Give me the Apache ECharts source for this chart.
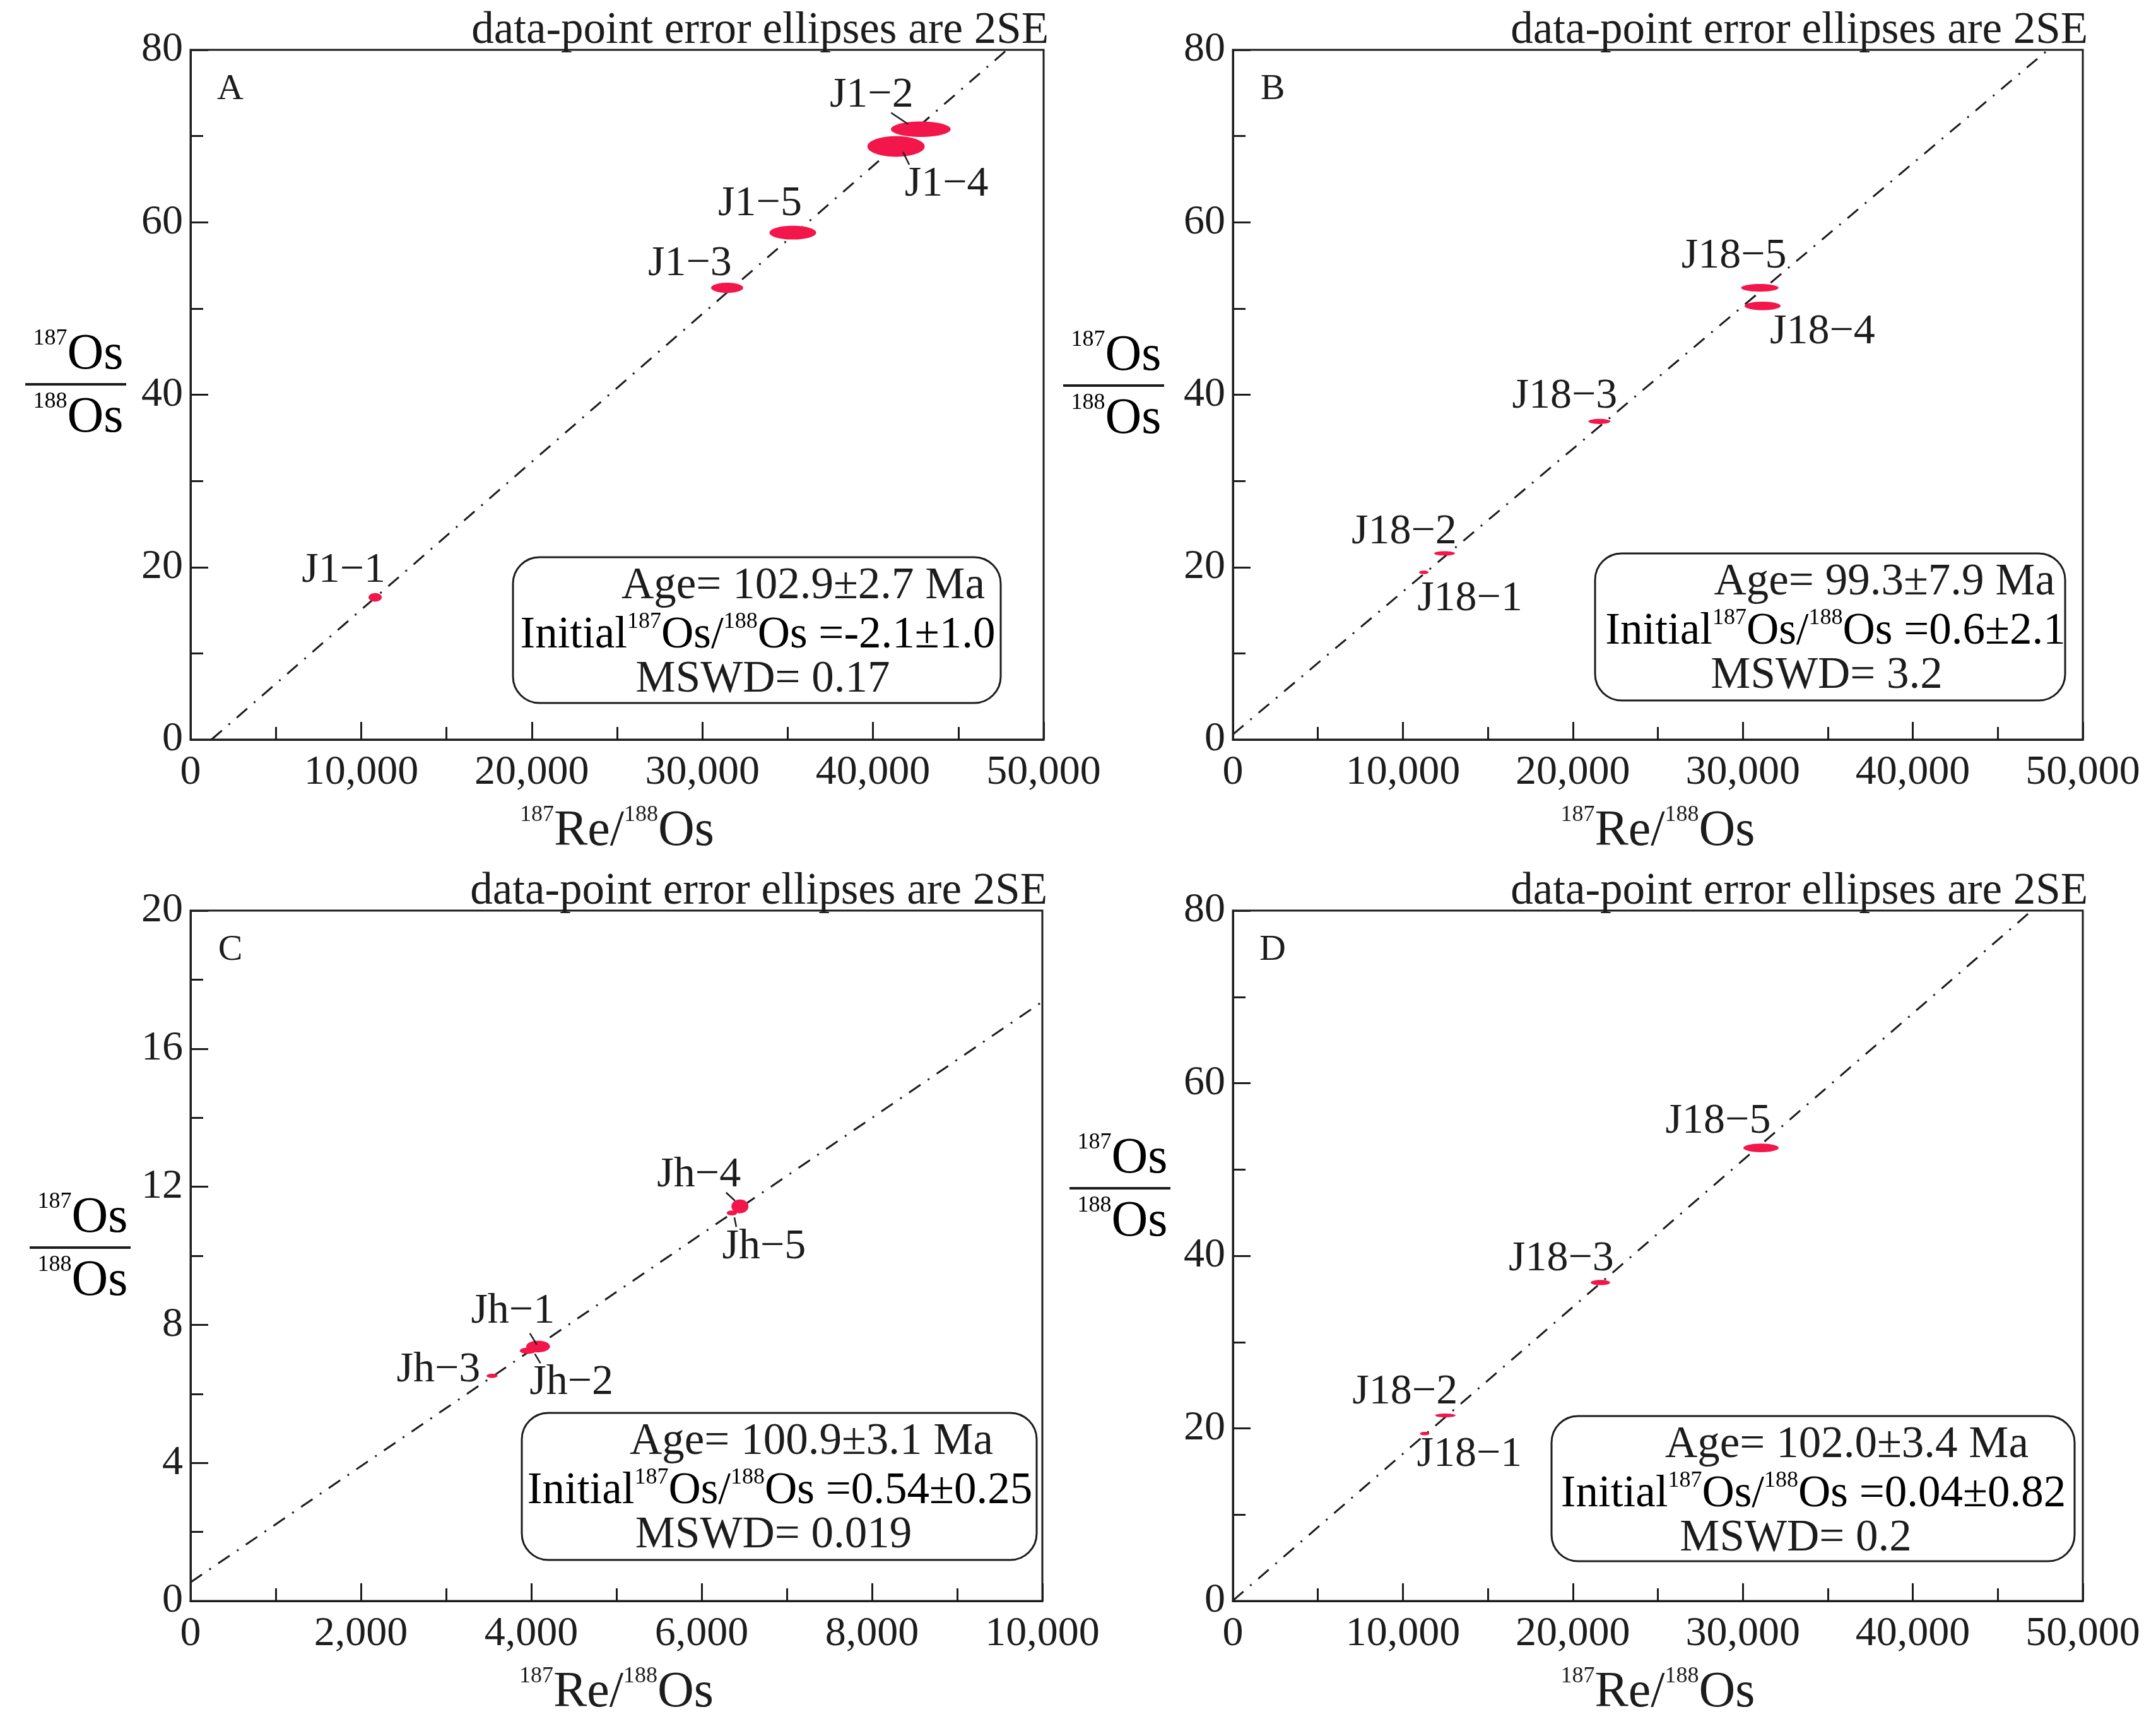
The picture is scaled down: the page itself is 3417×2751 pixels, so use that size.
<!DOCTYPE html>
<html>
<head>
<meta charset="utf-8">
<title>Re-Os isochrons</title>
<script src="https://cdn.jsdelivr.net/npm/echarts@6/dist/echarts.min.js"></script>
<style>
  html, body { margin: 0; padding: 0; background: #fff; }
  #chart { width: 3417px; height: 2751px; }
</style>
</head>
<body>
<div id="chart"></div>
<script>
// Panel A (J1)
const aNames = ["J1−1", "J1−2", "J1−3", "J1−4", "J1−5"];
const aRe = [10820, 42800, 31450, 41350, 35300];
const aOs = [16.5, 70.8, 52.4, 68.8, 58.8];
const aReErr = [390, 1750, 940, 1680, 1370];
const aOsErr = [0.5, 0.9, 0.6, 1.2, 0.8];
const aIsochron = [[1224, 0], [47850, 80]];

// Panel B (J18)
const bNames = ["J18−1", "J18−2", "J18−3", "J18−4", "J18−5"];
const bRe = [11230, 12450, 21560, 31160, 31000];
const bOs = [19.4, 21.6, 36.9, 50.3, 52.4];
const bReErr = [280, 610, 650, 1060, 1100];
const bOsErr = [0.2, 0.25, 0.3, 0.5, 0.45];
const bIsochron = [[0, 0.6], [47950, 80]];

// Panel C (Jh)
const cNames = ["Jh−1", "Jh−2", "Jh−3", "Jh−4", "Jh−5"];
const cRe = [4080, 3960, 3540, 6450, 6355];
const cOs = [7.37, 7.25, 6.52, 11.43, 11.24];
const cReErr = [140, 95, 65, 100, 60];
const cOsErr = [0.17, 0.09, 0.06, 0.2, 0.07];
const cIsochron = [[0, 0.54], [10000, 17.36]];

// Panel D (J18, without J18-4)
const dNames = ["J18−1", "J18−2", "J18−3", "J18−5"];
const dRe = [11280, 12500, 21620, 31070];
const dOs = [19.4, 21.5, 36.9, 52.5];
const dReErr = [280, 600, 570, 1040];
const dOsErr = [0.2, 0.22, 0.3, 0.5];
const dIsochron = [[0, 0.04], [47000, 80]];

// axes
const xMax = [50000, 50000, 10000, 50000];
const xStep = [10000, 10000, 2000, 10000];
const yMax = [80, 80, 20, 80];
const yStep = [20, 20, 4, 20];

// results shown in the boxes
const ages = ["102.9±2.7", "99.3±7.9", "100.9±3.1", "102.0±3.4"];
const initials = ["-2.1±1.0", "0.6±2.1", "0.54±0.25", "0.04±0.82"];
const mswds = ["0.17", "3.2", "0.019", "0.2"];
const letters = ["A", "B", "C", "D"];

const RED = "#f2164b";
const INK = "#1c1c1c";
const FONT = '"Liberation Serif", "Times New Roman", serif';

// layout (pixels)
const grids = [
  { left: 302, top: 79, width: 1352, height: 1093 },
  { left: 1954, top: 79, width: 1347, height: 1093 },
  { left: 302, top: 1443, width: 1350, height: 1094 },
  { left: 1954, top: 1443, width: 1347, height: 1094 },
];
// label offsets from ellipse centre
const labelOffsets = [
  [[-50, -42], [-78, -54], [-59, -38], [80, 60], [-52, -46]],
  [[73, 42], [-64, -34], [-55, -40], [95, 41], [-41, -50]],
  [[-40, -56], [69, 51], [-85, -9], [-65, -50], [51, 54]],
  [[71, 33], [-64, -37], [-62, -37], [-68, -42]],
];
// short leader lines [x1, y1, x2, y2] from ellipse centre
const leaders = [
  [null, [-47, -26, -20, -8], null, [11, 9, 21, 29], null],
  [null, null, null, null, null],
  [[-13, -21, -2, -3], [11, 5, 20, 20], null, [-22, -22, -8, -9], [4, 7, 7, 22]],
  [null, null, null, null],
];
const fracPos = [[120, 609], [1765, 611], [127, 1977], [1775, 1883]];
const boxes = [
  { x: 813, y: 883, w: 773, h: 231 },
  { x: 2528, y: 877, w: 745, h: 233 },
  { x: 827, y: 2239, w: 816, h: 233 },
  { x: 2459, y: 2244, w: 829, h: 230 },
];
const ageRight = [1561, 3257, 1574, 3215];
const initialX = [1201, 2909, 1236, 2874];
const mswdX = [1209, 2895, 1226, 2846];

const panels = [
  [aNames, aRe, aOs, aReErr, aOsErr, aIsochron],
  [bNames, bRe, bOs, bReErr, bOsErr, bIsochron],
  [cNames, cRe, cOs, cReErr, cOsErr, cIsochron],
  [dNames, dRe, dOs, dReErr, dOsErr, dIsochron],
];

const supRich = {
  s: { fontFamily: FONT, fontSize: 36, color: INK, verticalAlign: "top", align: "center" },
  b: { fontFamily: FONT, fontSize: 80, color: INK, lineHeight: 88, align: "center" },
};
const boxRich = {
  s: { fontFamily: FONT, fontSize: 36, color: INK, verticalAlign: "top" },
  b: { fontFamily: FONT, fontSize: 71, color: INK, lineHeight: 78 },
};

function fmt(v) {
  return v === 0 ? "0" : v.toLocaleString("en-US");
}

const chart = echarts.init(document.getElementById("chart"));

const xAxes = [];
const yAxes = [];
const series = [];
const graphics = [];

panels.forEach(function (p, k) {
  const names = p[0];
  xAxes.push({
    gridIndex: k,
    type: "value",
    min: 0,
    max: xMax[k],
    interval: xStep[k],
    axisLine: { lineStyle: { color: INK, width: 3 } },
    axisTick: { inside: true, length: 28, lineStyle: { color: INK, width: 3 } },
    minorTick: { show: true, splitNumber: 2, length: 20, lineStyle: { color: INK, width: 3 } },
    splitLine: { show: false },
    axisLabel: { fontFamily: FONT, fontSize: 66, color: INK, margin: 20, formatter: fmt },
    name: "{s|187}{b|Re/}{s|188}{b|Os}",
    nameLocation: "middle",
    nameGap: 102,
    nameTextStyle: { rich: supRich },
  });
  yAxes.push({
    gridIndex: k,
    type: "value",
    min: 0,
    max: yMax[k],
    interval: yStep[k],
    axisLine: { lineStyle: { color: INK, width: 3 } },
    axisTick: { inside: true, length: 28, lineStyle: { color: INK, width: 3 } },
    minorTick: { show: true, splitNumber: 2, length: 20, lineStyle: { color: INK, width: 3 } },
    splitLine: { show: false },
    axisLabel: { fontFamily: FONT, fontSize: 66, color: INK, margin: 12 },
  });

  // isochron
  series.push({
    type: "line",
    xAxisIndex: k,
    yAxisIndex: k,
    data: p[5],
    symbol: "none",
    silent: true,
    lineStyle: { color: INK, width: 3, type: [22, 14, 3, 14] },
    z: 3,
  });

  // error ellipses with labels
  const offs = labelOffsets[k];
  const lds = leaders[k];
  series.push({
    type: "custom",
    xAxisIndex: k,
    yAxisIndex: k,
    clip: false,
    z: 5,
    data: p[1].map(function (x, i) {
      return [x, p[2][i], p[3][i], p[4][i]];
    }),
    encode: { x: 0, y: 1 },
    renderItem: function (params, api) {
      const i = params.dataIndex;
      const c = api.coord([api.value(0), api.value(1)]);
      const s = api.size([api.value(2), api.value(3)]);
      const children = [
        {
          type: "ellipse",
          shape: { cx: c[0], cy: c[1], rx: s[0], ry: s[1] },
          style: { fill: RED },
        },
        {
          type: "text",
          style: {
            text: names[i],
            x: c[0] + offs[i][0],
            y: c[1] + offs[i][1],
            fill: INK,
            fontFamily: FONT,
            fontSize: 68,
            align: "center",
            verticalAlign: "middle",
          },
        },
      ];
      const ld = lds[i];
      if (ld) {
        children.push({
          type: "line",
          shape: { x1: c[0] + ld[0], y1: c[1] + ld[1], x2: c[0] + ld[2], y2: c[1] + ld[3] },
          style: { stroke: INK, lineWidth: 2.5 },
        });
      }
      return { type: "group", children: children };
    },
  });

  const g = grids[k];
  // note above the frame
  graphics.push({
    type: "text",
    x: g.left + g.width + 8,
    y: g.top - 30,
    style: {
      text: "data-point error ellipses are 2SE",
      fill: INK,
      fontFamily: FONT,
      fontSize: 71,
      align: "right",
      verticalAlign: "middle",
    },
  });
  // panel letter
  graphics.push({
    type: "text",
    x: g.left + 63,
    y: g.top + 63,
    style: { text: letters[k], fill: INK, fontFamily: FONT, fontSize: 58, align: "center", verticalAlign: "middle" },
  });
  // y-axis title as a fraction
  const f = fracPos[k];
  graphics.push({
    type: "text",
    x: f[0] + 4,
    y: f[1] - 46,
    style: { text: "{s|187}{b|Os}", rich: supRich, align: "center", verticalAlign: "middle" },
  });
  graphics.push({
    type: "line",
    shape: { x1: f[0] - 80, y1: f[1], x2: f[0] + 80, y2: f[1] },
    style: { stroke: INK, lineWidth: 4 },
  });
  graphics.push({
    type: "text",
    x: f[0] + 4,
    y: f[1] + 54,
    style: { text: "{s|188}{b|Os}", rich: supRich, align: "center", verticalAlign: "middle" },
  });
  // result box
  const b = boxes[k];
  graphics.push({
    type: "rect",
    shape: { x: b.x, y: b.y, width: b.w, height: b.h, r: 42 },
    style: { fill: "#fff", stroke: INK, lineWidth: 3 },
    z: 1,
  });
  graphics.push({
    type: "text",
    x: ageRight[k],
    y: b.y + 46,
    z: 2,
    style: { text: "Age= " + ages[k] + " Ma", fill: INK, fontFamily: FONT, fontSize: 71, align: "right", verticalAlign: "middle" },
  });
  graphics.push({
    type: "text",
    x: initialX[k],
    y: b.y + 124,
    z: 2,
    style: {
      text: "{b|Initial}{s|187}{b|Os/}{s|188}{b|Os =" + initials[k] + "}",
      rich: boxRich,
      align: "center",
      verticalAlign: "middle",
    },
  });
  graphics.push({
    type: "text",
    x: mswdX[k],
    y: b.y + 194,
    z: 2,
    style: { text: "MSWD= " + mswds[k], fill: INK, fontFamily: FONT, fontSize: 71, align: "center", verticalAlign: "middle" },
  });
});

const option = {
  animation: false,
  backgroundColor: "#fff",
  grid: grids.map(function (g) {
    return Object.assign({ show: true, borderColor: INK, borderWidth: 3, backgroundColor: "transparent" }, g);
  }),
  xAxis: xAxes,
  yAxis: yAxes,
  series: series,
  graphic: { elements: graphics },
};
chart.setOption(option);
</script>
</body>
</html>
